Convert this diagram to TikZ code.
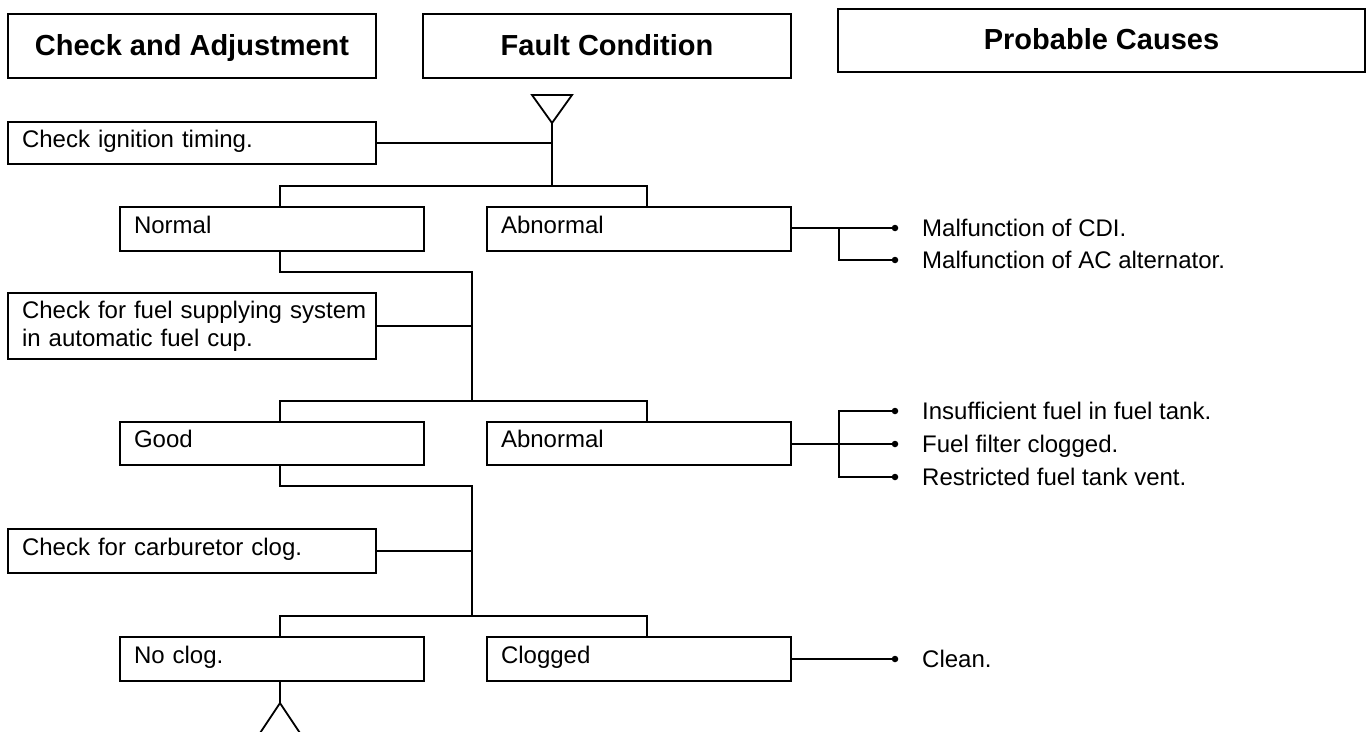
\documentclass[tikz,border=0pt]{standalone}
\usepackage{fontspec}
\setmainfont{Liberation Sans}
\begin{document}
\begin{tikzpicture}[x=1pt,y=-1pt,
  ln/.style={line width=1.8pt},
  hdr/.style={draw, line width=1.8pt, inner sep=0pt, align=center,
    text height=21pt, text depth=3pt,
    font=\bfseries\fontsize{29}{34}\selectfont, anchor=center},
  box/.style={draw, line width=1.8pt, inner xsep=14pt, inner ysep=0pt,
    align=left, font=\fontsize{24}{28}\selectfont, anchor=center},
  onel/.style={text height=17pt, text depth=9pt},
  txt/.style={anchor=base west, inner sep=0pt, font=\fontsize{24}{28}\selectfont},
  dot/.style={circle, fill, inner sep=0pt, minimum size=6.5pt}
]
\useasboundingbox (0,0) rectangle (1367,731);
\clip (0,0) rectangle (1367,731);

% headers
\node[hdr, minimum width=368pt, minimum height=64pt] (h1) at (192,46) {Check and Adjustment};
\node[hdr, minimum width=368pt, minimum height=64pt] (h2) at (607,46) {Fault Condition};
\node[hdr, minimum width=527pt, minimum height=63pt] (h3) at (1101.5,40.5) {Probable Causes};

% top triangle
\coordinate (apex) at (552,123);
\draw[ln, line join=miter] (532,95) -- (572,95) -- (apex) -- cycle;

% step 1
\node[box, onel, text width=340pt, minimum height=42pt] (c1) at (192,143) {Check ignition timing.};
\node[box, onel, text width=276pt, minimum height=44pt] (n1) at (272,229) {Normal};
\node[box, onel, text width=276pt, minimum height=44pt] (a1) at (639,229) {Abnormal};
\coordinate (j1) at (552,143);
\coordinate (bar1) at (552,186);
\draw[ln] (c1.east) -- (j1);
\draw[ln] (apex) -- (bar1);
\draw[ln] (n1.north -| 280,0) |- (bar1) -| (a1.north -| 647,0);

% step 2
\node[box, text width=340pt, minimum height=66pt] (c2) at (192,326)
  {\mbox{Check for fuel supplying system}\\\mbox{in automatic fuel cup.}};
\node[box, onel, text width=276pt, minimum height=43pt] (g2) at (272,443.5) {Good};
\node[box, onel, text width=276pt, minimum height=43pt] (a2) at (639,443.5) {Abnormal};
\coordinate (t2) at (472,272);
\coordinate (bar2) at (472,401);
\draw[ln] (n1.south -| 280,0) |- (t2) -- (bar2);
\draw[ln] (c2.east) -- (c2.east -| t2);
\draw[ln] (g2.north -| 280,0) |- (bar2) -| (a2.north -| 647,0);

% step 3
\node[box, onel, text width=340pt, minimum height=44pt] (c3) at (192,551) {Check for carburetor clog.};
\node[box, onel, text width=276pt, minimum height=44pt] (n3) at (272,659) {No clog.};
\node[box, onel, text width=276pt, minimum height=44pt] (a3) at (639,659) {Clogged};
\coordinate (t3) at (472,486);
\coordinate (bar3) at (472,616);
\draw[ln] (g2.south -| 280,0) |- (t3) -- (bar3);
\draw[ln] (c3.east) -- (c3.east -| t3);
\draw[ln] (n3.north -| 280,0) |- (bar3) -| (a3.north -| 647,0);

% bottom triangle
\coordinate (apex2) at (280,703);
\draw[ln] (n3.south -| 280,0) -- (apex2);
\draw[ln, line join=miter] (260,733) -- (apex2) -- (300,733);

% causes for a1
\node[dot] (d11) at (895,228) {};
\node[dot] (d12) at (895,260) {};
\node[txt] (t11) at (922,236.5) {Malfunction of CDI.};
\node[txt] (t12) at (922,268.5) {Malfunction of AC alternator.};
\coordinate (k1) at (839,228);
\draw[ln] (a1.east |- d11) -- (d11);
\draw[ln] (k1) |- (d12);

% causes for a2
\node[dot] (d21) at (895,411) {};
\node[dot] (d22) at (895,444) {};
\node[dot] (d23) at (895,477) {};
\node[txt] (t21) at (922,419.5) {Insufficient fuel in fuel tank.};
\node[txt] (t22) at (922,452.5) {Fuel filter clogged.};
\node[txt] (t23) at (922,485.5) {Restricted fuel tank vent.};
\coordinate (k2) at (839,444);
\draw[ln] (a2.east |- d22) -- (d22);
\draw[ln] (d21) -| (k2);
\draw[ln] (k2) |- (d23);

% cause for a3
\node[dot] (d31) at (895,659) {};
\node[txt] (t31) at (922,667.5) {Clean.};
\draw[ln] (a3.east) -- (d31);
\end{tikzpicture}
\end{document}
